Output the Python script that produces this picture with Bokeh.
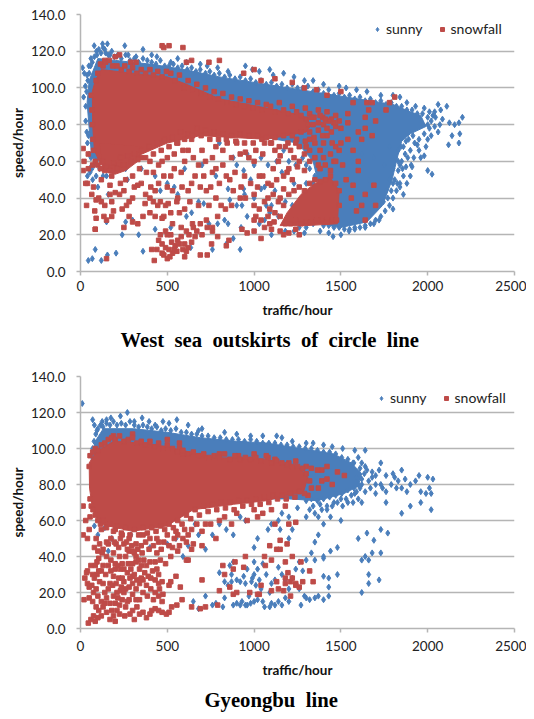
from bokeh.embed import file_html
from bokeh.resources import INLINE
from bokeh.layouts import column
from bokeh.models import FixedTicker, Legend, LegendItem, Range1d, Title
from bokeh.plotting import figure

x_ticks = [0, 500, 1000, 1500, 2000, 2500]
y_ticks = [0, 20, 40, 60, 80, 100, 120, 140]
y_labels = ["0.0", "20.0", "40.0", "60.0", "80.0", "100.0", "120.0", "140.0"]
series_names = ["sunny", "snowfall"]
titles = ["West \u00a0sea \u00a0outskirts \u00a0of \u00a0circle \u00a0line", "Gyeongbu \u00a0line"]

# ---- West sea outskirts: outlines of the solid, fully overplotted parts of each cloud
west_sunny_solid = [(38,92),(50,104),(100,116),(200,115),(400,113),(600,110),(800,106),(1000,103),(1200,100),(1400,97),(1600,94),(1800,91),(1900,87),(1960,85),(1990,79),(1900,75),(1850,71),(1825,62),(1795,50),(1740,36),(1650,27),(1500,24),(1430,25),(1390,40),(1340,60),(1250,70),(1000,74),(500,78),(300,72),(120,60),(65,62),(50,78)]
west_snow_solid = [(68,98),(85,104),(120,110),(300,108),(500,106),(610,102),(803,94),(1072,89),(1280,85),(1330,80),(1300,76),(1072,72),(689,74),(500,70),(306,62),(117,58),(80,66),(70,80)]
west_snow_solid_low = [(1150,25),(1300,25),(1480,26),(1490,44),(1440,51),(1350,48),(1270,42),(1190,32)]
west_snow_solid_mid = [(130,55),(200,53),(260,55),(330,60),(360,68),(110,70)]

west_sunny_points = [(12,111),(22,108),(18,95),(28,101),(38,107),(48,112),(60,116),(79,123),(95,118),(127,124),(140,121),(155,124),(170,118),(255,123),(275,118),(360,121),(320,117),(410,118),(440,117),(520,114),(560,116),(610,114),(690,113),(730,112),(790,111),(850,109),(950,112),(990,110),(1030,109),(1090,110),(1110,107),(1170,108),(1230,106),(1290,104),(1340,104),(1400,102),(1490,101),(1530,100),(1590,99),(1650,98),(1730,96),(1800,96),(1840,95),(1880,92),(1930,90),(1980,89),(2010,87),(2040,87),(2060,91),(2075,88),(2110,90),(2045,84),(2085,83),(2125,81),(2155,80),(2200,84),(2180,81),(2040,79),(2060,76),(2070,80),(2020,74),(2000,72),(1990,68),(1940,69),(2140,74),(2185,75),(2120,69),(2180,70),(1980,63),(1960,62),(2025,53),(2000,55),(1910,57),(1900,52),(1880,48),(1860,42),(1840,46),(1800,34),(1720,28),(1690,26),(1640,24),(1580,23),(1547,22),(1500,20),(1455,19),(1430,21),(1380,22),(1290,21),(1230,22),(1180,22),(1100,20),(1090,32),(1070,36),(1040,45),(980,50),(940,55),(880,62),(800,70),
(960,30),(945,42),(930,36),(925,24),(920,12),(940,45),(880,18),(900,36),(850,26),(860,39),(830,28),(840,15),(790,26),(760,12),(740,26),(710,37),(680,38),(640,32),(610,30),(635,13),(560,42),(520,24),(540,46),(430,23),(360,11),(335,20),(300,28),(260,27),(240,20),(205,10),(155,9),(120,6),(85,12),(68,7),(45,6),(150,27),(160,42),(150,52),(90,52),(70,50),(55,54),(60,57),(40,52),(130,52),(110,56),(100,46),(260,56),(270,50),(350,56),(430,52),(460,44),(500,48),(600,56),(700,58),(780,52),(850,45),(900,58),(1000,40),(1030,26),(1060,46),(1130,60),(1170,66),(1230,48),(1300,58),(1360,62),(1420,66),(1500,70),(1560,60),(1620,64),(1690,62),(1750,58),(1780,68),(1830,60),(1660,50),(1780,50)]
west_sunny_edge = [(30,90),(35,98),(42,104),(50,108),(58,112),(68,114),(80,117),(92,120),(105,121),(118,119),(130,122),(145,119),(160,118),(180,120),(195,117),(215,118),(235,116),(260,118),(285,115),(310,116),(335,114),(360,116),(385,115),(410,114),(435,113),(460,115),(485,112),(510,112),(535,113),(560,111),(585,112),(615,110),(640,111),(665,109),(690,110),(720,108),(745,109),(770,107),(800,108),(830,106),(860,107),(890,105),(920,106),(950,104),(980,105),(1010,103),(1040,104),(1070,102),(1100,103),(1130,101),(1160,102),(1190,100),(1220,102),(1250,100),(1280,100),(1310,101),(1340,98),(1370,99),(1400,97),(1430,99),(1460,96),(1490,97),(1520,95),(1550,96),(1580,94),(1610,95),(1640,93),(1670,94),(1700,92),(1730,93),(1760,91),(1790,92),(1820,90),(1850,90),(1880,88),(1910,88),(1940,86),(1970,86),(2000,84),
(2010,78),(1980,75),(1950,72),(1925,70),(1900,66),(1885,62),(1875,57),(1860,52),(1840,48),(1820,44),(1800,40),(1780,36),(1755,33),(1730,30),(1700,28),(1670,26),(1640,25),(1610,24),(1580,24),(1550,23),(1520,23),(1490,24),(1460,24),(1430,25),(1400,25),(1850,60),(1870,64),(1830,55),(2000,80),(2020,82),(2030,85),(1950,66),(1920,62),(1905,58),
(1815,62),(1830,66),(1860,68),(1810,50),(1800,56),(1790,44),(1745,38),(1760,44),(1840,58),(1800,48),(1770,40),(1845,68),(1875,71),(1890,72),(1915,74),(1855,56),(1825,48),
(1380,30),(1360,36),(1370,44),(1340,48),(1320,56),(1350,52),(1300,48),(1280,62),(1240,58),(1200,60),(1160,54),(1120,44),(1080,58),(1040,62),(1000,58),(960,64),(1260,30),(1220,36),(1180,38),(1140,30),(1100,36),(1060,28),(1340,26),(1300,24),(1260,24),(30,82),(36,76),(40,70),(46,74),(50,64),(60,62),(66,56),(78,58),(90,60)]

west_snow_points = [(15,67),(45,64),(20,60),(45,56),(15,55),(70,58),(40,48),(75,46),(65,42),(35,36),(90,39),(82,33),(90,29),(85,23),(105,40),(120,38),(140,36),(135,30),(150,28),(180,30),(120,50),(140,55),(180,52),(220,58),(170,47),(200,43),(225,42),(180,38),(190,33),(240,34),(265,36),(280,38),(300,40),(330,47),(375,42),(405,46),(430,44),(460,38),(490,36),(530,44),(560,40),(585,46),(620,44),(640,48),(690,46),(725,44),(760,54),(780,56),(820,58),(860,50),(925,46),(945,52),(980,48),(1000,42),(1030,52),(280,30),(300,27),(330,26),(360,30),(372,37),(400,32),(420,38),(445,36),(470,29),(505,37),(530,26),(555,38),(600,34),(645,26),(690,26),(725,28),(760,24),(790,30),(810,36),(835,34),(870,36),(920,40),(250,24),(85,23),
(425,6),(410,12),(440,12),(450,17),(470,10),(480,9),(500,7),(515,8),(530,10),(545,14),(560,17),(580,19),(600,15),(610,11),(620,13),(640,16),(660,19),(690,9),(730,9),(755,15),(790,19),(840,14),(855,17),(470,15),(490,13),(510,12),(525,16),(540,12),(555,11),(570,15),(590,12),(600,8),(460,20),(490,22),(500,20),(520,20),(580,24),(610,22),(625,20),(650,24),(670,22),(700,20),(730,24),(760,22),(930,23),(960,21),(1000,22),(1040,18),(1060,24),(1090,26),(1100,23),(1010,30),(1040,28),(1080,30),(1115,27),(1150,22),(1170,20),(1200,21),(1240,23),(1260,20),(150,7),
(30,48),(1080,40),(1150,40),(1100,47),(1130,50),(1170,45),(1190,54),(1220,50),(1250,57),(1290,55),(1320,60),(1370,58),(1400,62),(1440,55),(1460,60),(1470,68),(1500,70),(1540,72),(1570,66),(1600,60),(1510,58),(1530,50),(1570,47),(1600,55),(1640,42),(1690,47),(1700,36),(1640,28),(1590,33),(1620,36),(1560,40),(1150,63),(1210,66),(1260,68),(1320,72),(1380,66),(1420,74),(1000,60),(1050,64),(1100,70),(950,65),(900,70),(840,72),(780,68),(700,66),(640,72),(600,60),(560,70),(500,62),(450,58),(400,60),(350,62),(1500,78),(1540,81),(1600,76),(1640,78),(1680,74),(1620,72),(1570,92),(1540,86),(1660,88),(1680,92),(1780,92),(1760,88),(1810,95),(1640,84),(1700,82),
(470,123),(480,122),(510,123),(590,122),(610,114),(640,115),(740,114),(800,115),(940,108),(1000,110),(1040,104),(1120,105),(1220,103),(1290,100),(1360,99),(1420,96),(1500,98),(1650,92),(200,117),(225,118),(140,115),(290,114),(320,114)]
west_snow_edge = [(62,96),(66,88),(68,80),(72,72),(75,66),(90,104),(100,108),(115,113),(130,112),(145,114),(165,115),(185,112),(210,112),(235,110),(255,112),(280,109),(300,111),(325,108),(350,110),(375,108),(400,110),(420,107),(445,109),(470,106),(495,109),(520,108),(545,104),(570,107),(595,100),(620,104),(645,99),(670,102),(695,97),(720,100),(745,95),(770,98),(795,94),(820,97),(845,92),(870,95),(895,91),(920,94),(945,90),(970,93),(995,89),(1020,92),(1045,88),(1070,91),(1095,90),(1120,87),(1145,92),(1170,88),(1195,86),(1220,90),(1245,87),(1270,85),(1295,89),(1320,86),(1345,84),(1370,88),(1395,84),(1420,87),(1445,83),(1470,85),(1490,82),
(85,60),(100,58),(115,56),(130,60),(150,57),(170,55),(190,59),(210,56),(230,62),(250,58),(270,63),(290,60),(310,64),(330,61),(350,66),(375,62),(395,68),(420,64),(440,70),(465,66),(485,72),(510,68),(530,73),(555,70),(575,76),(600,72),(620,75),(645,74),(670,78),(695,74),(720,77),(745,72),(770,76),(795,72),(820,75),(845,70),(870,74),(895,71),(920,75),(945,70),(970,74),(995,70),(1020,74),(1045,72),(1070,73),(1095,70),(1120,73),(1145,68),(1170,74),(1195,70),(1220,74),(1245,72),(1270,76),(1295,71),(1320,76),(1345,73),(1370,77),(1395,74),(1420,78),(1445,76),(1470,79),
(1310,80),(1340,80),(1370,81),(1400,80),(1430,82),(1460,81),(1330,84),(1380,85),(1410,83),(1300,83),
(1000,28),(1030,34),(1060,38),(1090,34),(1120,32),(1150,30),(1170,36),(1140,38),(1110,42),(1180,26),(1210,26),(1240,28),(1270,26),(1300,27),(1330,27),(1360,28),(1390,28),(1420,27),(1450,28),(1475,28),(1200,42),(1230,44),(1260,46),(1290,44),(1320,48),(1350,50),(1380,49),(1410,50),(1440,52),(1470,48),(1490,44),(1490,36),
(1020,46),(1050,52),(1080,48),(1110,56),(1140,60),(1170,52),(1200,56),(1230,62),(1260,60),(1290,64),(1320,66),(1350,62),(1380,56),(1410,58),(1440,64),(1470,60),(1490,66),(1450,70),(1400,70),(1350,70),(1300,68),(1240,70),(1180,68),(1120,66),(1060,70),(1010,66),(970,62),(920,64),(870,62),(820,66),(760,62),(720,60),(680,58),(650,62),(620,66),(590,66),(540,64),(470,60),(420,54),(380,54),(340,56),(300,52),(260,50),(230,48),(170,42),(250,44),(310,46),(350,48),(400,40),(450,48),(500,46),(520,52),(480,52),(540,56),(580,54),(660,52),(710,52),(750,46),(800,48),(840,52),(890,54),(950,40),(1000,36),(880,44),(780,40),(740,36),(680,36),(630,38),(570,32),(520,32),(480,30),(430,30)]

# ---- Gyeongbu line
gyeongbu_sunny_solid = [(62,94),(85,104),(131,111),(305,111),(500,109),(690,106),(900,104),(1073,103),(1268,100),(1458,97),(1560,92),(1620,86),(1600,79),(1518,75),(1364,71),(1200,72),(1000,72),(600,72),(300,62),(100,65),(65,80)]
gyeongbu_snow_solid = [(50,92),(90,98),(190,104),(350,103),(497,101),(766,95),(1073,94),(1265,89),(1310,84),(1285,76),(1190,74),(1073,71),(880,69),(650,66),(497,57),(300,54),(112,58),(70,66),(52,78)]

gyeongbu_sunny_points = [(10,125),(70,116),(80,113),(95,110),(125,115),(150,116),(175,117),(230,118),(270,120),(310,115),(355,117),(395,115),(430,113),(475,115),(510,114),(555,116),(620,113),(680,110),(700,111),(830,109),(900,108),(980,107),(1050,107),(1130,107),(1160,106),(1220,104),(1300,103),(1340,103),(1400,102),(1450,101),(1510,100),(1580,99),(1640,99),(1570,92),(1600,95),(1620,92),(1640,90),(1680,87),(1700,85),(1720,88),(1660,82),(1620,80),(1580,75),(1530,72),(1600,72),(1700,75),(1740,78),(1760,85),(1800,86),(1730,92),(1850,88),(1810,84),(1830,82),(1870,83),(1900,80),(1930,82),(1950,85),(1960,76),(2000,84),(2030,83),(2010,78),(2020,75),(1990,75),(1960,70),(2020,66),(1900,68),(1850,64),(1760,76),(1760,70),(1620,70),(1480,70),(1420,66),(1440,62),(1400,58),(1370,62),(1300,62),(1250,67),(1200,62),(1160,64),(1140,60),(1100,58),(1150,55),(1200,50),(1220,55),(1370,52),(1400,40),(1350,48),(1500,60),(1650,53),(1770,53),(1730,55),(1730,42),(1690,49),(1600,50),(1680,42),(1660,30),(1640,40),(1620,38),(1660,38),(1720,27),(1660,25),(1620,20),
(1320,66),(1350,64),(1390,66),(1450,68),(1510,68),(1570,70),(1640,76),(1670,78),(1700,80),(1730,80),(1790,80),(1820,78),(1850,78),(1880,76),
(1080,55),(1020,50),(1000,45),(950,60),(920,62),(880,52),(840,55),(800,58),(760,52),(720,44),(680,52),(660,58),(620,46),(590,40),(550,50),(500,47),(400,45),(290,52),(180,50),(140,56),(100,52),(80,57),(120,65),(160,43),
(1480,45),(1480,30),(1440,43),(1400,39),(1430,28),(1400,29),(1350,38),(1330,42),(1300,38),(1280,32),(1260,37),(1240,33),(1220,28),(1200,22),(1180,27),(1160,30),(1140,34),(1120,27),(1100,25),(1090,20),(1070,30),(1050,36),(1040,22),(1020,33),(1000,30),(990,28),(985,26),(1010,24),(1030,27),(970,18),(960,13),(980,14),(950,25),(940,29),(930,15),(920,13),(900,14),(880,13),(870,30),(860,35),(880,37),(800,31),(830,26),(850,24),(870,26),(820,12),(780,14),(760,13),(720,18),(680,11),(650,15),(830,17),(1100,14),(1120,13),(1140,15),(1160,13),(1180,17),(1200,15),(1260,22),(1300,17),(1320,16),(1350,17),(1400,16),(1430,23),(1430,18),(1370,18),(1290,18),(1270,13),(1090,12),(1060,12),(1050,15),(1020,16),(950,13),(1000,15),(900,27),(920,26),(960,33),(1000,37)]
gyeongbu_sunny_edge = [(62,96),(70,100),(78,104),(88,108),(100,111),(115,113),(130,112),(150,114),(170,113),(190,115),(210,113),(235,114),(260,113),(285,115),(310,113),(335,112),(360,113),(385,112),(410,111),(440,112),(465,110),(490,111),(520,110),(550,111),(580,109),(610,109),(640,108),(670,108),(700,107),(735,107),(770,106),(805,106),(840,105),(875,105),(910,105),(945,104),(980,105),(1015,104),(1050,103),(1085,103),(1120,103),(1155,102),(1190,102),(1225,101),(1260,101),(1295,100),(1330,100),(1365,99),(1400,98),(1435,98),(1470,97),(1505,95),(1540,94),(1575,92),(1610,89),(1635,86),(1620,83),(1600,80),(1575,78),(1540,77),(1505,75),(1470,74),(1435,73),(1400,72),(1365,71),(1330,72),(1300,71),(1260,74),(1420,68),(1380,69),(1340,68),(1500,72),(1460,70),(1560,74),(1590,76),(1650,88),(1680,84),(1540,70),(1590,84),(1610,78)]

gyeongbu_snow_points = [(15,68),(30,60),(50,55),(55,62),(15,52),(40,50),(80,45),(120,55),(160,47),(200,55),(240,52),(280,50),(320,47),(360,52),(400,50),(450,48),(500,52),(550,54),(590,50),(640,55),(700,54),(750,58),(780,50),(830,62),(900,64),(960,60),(1020,62),(1050,64),(1120,58),(1200,58),(1240,59),(1090,46),(1130,44),(1100,38),(1180,37),(1180,25),(1240,25),(1280,26),(1220,28),(1210,18),(1140,22),(1100,21),(1040,24),(1030,19),
(20,16),(45,3),(50,17),(60,5),(75,7),(85,4),(90,12),(100,18),(110,26),(120,32),(95,30),(80,28),(65,24),(50,23),(40,32),(35,31),(60,35),(95,37),(105,39),(130,25),(140,20),(150,9),(170,5),(190,7),(200,4),(210,10),(225,13),(240,16),(260,12),(285,8),(300,10),(325,12),(360,9),(380,6),(410,10),(430,11),(470,9),(495,8),(510,9),(470,15),(450,18),(430,20),(405,22),(380,24),(360,27),(340,25),(320,22),(300,19),(280,23),(250,26),(230,21),(210,20),(190,18),(170,14),(150,17),(130,12),(120,15),(170,25),(190,29),(200,33),(220,28),(240,36),(260,40),(280,43),(300,36),(320,37),(340,33),(355,42),(300,29),(270,31),(250,33),(200,36),(190,42),(205,47),(230,50),(350,28),(370,31),(390,29),(430,27),(450,30),(470,26),(510,24),(520,26),(550,29),(575,23),(585,16),(555,13),(525,12),(455,22),(475,19),(440,42),(430,37),(460,38),(490,36),(520,40),(530,45),(560,43),(610,38),(620,38),(650,47),(700,27),(640,12),(690,11),(720,12),(790,13),(800,21),(860,23),(880,19),(900,20),(975,20),(1020,19),(1065,35),
(570,46),(610,48),(640,44),(700,46),(820,35),(830,30),(880,33),(890,37),(940,34),(950,40),(1060,40),(1150,44),(1210,26),(1180,28),(1320,32),(1340,26),(1260,23),(1240,24),(1170,21),(1130,26),(1195,31),(1220,40),(1270,37),(1190,47),(1150,49),
(190,107),(300,108),(500,105),(570,103),(570,100),(590,97),(700,96),(800,97),(910,96),(1000,97),(1080,95),(1120,94),(1200,92),(1240,93),(1300,90),(1330,89),(1365,88),(1420,90),(1390,88),(1480,87),(1520,85),(1420,83),(1390,82),(1450,80),(1370,78)]
gyeongbu_snow_edge = [(50,90),(55,96),(70,98),(85,100),(100,99),(120,102),(140,103),(160,105),(180,106),(200,105),(225,107),(250,104),(275,105),(300,106),(325,103),(350,104),(375,102),(400,104),(425,101),(450,103),(475,100),(500,102),(530,100),(560,98),(590,99),(620,97),(650,98),(680,96),(710,97),(740,95),(770,96),(800,95),(830,97),(860,94),(890,96),(920,94),(950,95),(980,94),(1010,95),(1040,93),(1070,96),(1100,92),(1130,93),(1160,92),(1190,91),(1220,90),(1250,90),(1280,89),(1300,86),(1320,82),(1330,78),(1310,74),(1290,75),
(55,72),(62,68),(72,66),(85,63),(100,60),(115,58),(130,60),(150,56),(170,58),(190,54),(210,57),(235,53),(260,56),(285,52),(310,55),(335,52),(360,56),(385,53),(410,56),(435,54),(460,57),(485,55),(510,58),(535,56),(560,60),(585,58),(610,63),(635,61),(660,66),(685,63),(710,68),(735,65),(760,69),(785,66),(810,70),(835,67),(860,70),(885,66),(910,71),(935,68),(960,71),(985,69),(1010,72),(1035,69),(1060,73),(1085,70),(1110,74),(1135,72),(1160,74),(1185,72),(1210,75),(1235,73),(1260,76),
(90,50),(110,47),(130,44),(150,48),(175,50),(195,48),(220,45),(250,47),(270,44),(295,46),(310,42),(330,44),(350,46),(375,48),(395,44),(420,46),(440,50),(465,44),(480,48),(510,46),(540,50),(560,52),(600,55),(620,52),(670,58),(720,58),(800,60),(870,58),(1000,66),(1100,66),(1180,68),
(70,30),(85,35),(75,20),(90,22),(105,32),(130,35),(145,30),(160,35),(175,32),(185,24),(205,25),(215,35),(230,33),(240,28),(260,22),(275,36),(285,28),(310,30),(325,27),(335,38),(350,35),(365,38),(380,35),(400,37),(415,32),(440,33),(450,25),(405,28),(385,18),(360,20),(340,16),(320,16),(280,16),(250,20),(225,8),(255,7),(310,5),(340,8),(400,8),(450,10),(420,16),(120,7),(105,10),(70,15),(40,25),(25,28),(100,6),(140,14),(180,10),(300,25),(270,15),(215,17),(160,22),(200,14),(235,23),(290,33),(320,40),(265,48),(300,43),(225,40),(175,38),(150,40),(125,42),(100,43)]

SUNNY = "#4a7ebb"
SNOW = "#be4b48"
GRID = "#b5b5b5"


def make_chart(sunny_solids, snow_solids, sunny_points, snow_points, title,
               height, frame_w, frame_h, top, tick_standoff, label_standoff, title_offset, title_standoff, legend_xy):
    left = 80
    p = figure(width=526, height=height, output_backend="svg", toolbar_location=None,
               x_range=Range1d(0, 2500), y_range=Range1d(0, 140),
               min_border_left=left, min_border_right=526 - left - frame_w, min_border_top=top,
               min_border_bottom=height - top - frame_h)
    p.outline_line_color = None
    p.xgrid.visible = False
    p.ygrid.ticker = FixedTicker(ticks=y_ticks)
    p.ygrid.grid_line_color = GRID
    p.ygrid.grid_line_width = 1.5

    for ax, ticks in ((p.xaxis[0], x_ticks), (p.yaxis[0], y_ticks)):
        ax.ticker = FixedTicker(ticks=ticks)
        ax.axis_line_color = GRID
        ax.axis_line_width = 1.5
        ax.major_tick_line_color = GRID
        ax.major_tick_line_width = 1.5
        ax.major_tick_in = 0
        ax.major_tick_out = 4
        ax.minor_tick_line_color = None
        ax.major_label_text_font = "Lato"
        ax.major_label_text_font_size = "13.5px"
        ax.major_label_text_color = "#222222"
        ax.axis_label_text_font = "Lato"
        ax.axis_label_text_font_size = "13.5px"
        ax.axis_label_text_font_style = "bold"
        ax.axis_label_text_color = "#111111"
    p.yaxis[0].major_label_overrides = {t: s for t, s in zip(y_ticks, y_labels)}
    p.xaxis[0].axis_label = "traffic/hour"
    p.yaxis[0].axis_label = "speed/hour"
    p.xaxis[0].major_label_standoff = tick_standoff
    p.yaxis[0].major_label_standoff = 11
    p.xaxis[0].axis_label_standoff = label_standoff
    p.yaxis[0].axis_label_standoff = 2

    for solid in sunny_solids:
        p.patch([a for a, _ in solid], [b for _, b in solid], color=SUNNY, line_width=1)
    r1 = p.scatter([a for a, _ in sunny_points], [b for _, b in sunny_points],
                   marker="diamond", size=6, color=SUNNY)
    for solid in snow_solids:
        p.patch([a for a, _ in solid], [b for _, b in solid], color=SNOW, line_width=1)
    r2 = p.scatter([a for a, _ in snow_points], [b for _, b in snow_points],
                   marker="square", size=4.5, color=SNOW)

    legend = Legend(items=[LegendItem(label=series_names[0], renderers=[r1]),
                           LegendItem(label=series_names[1], renderers=[r2])],
                    orientation="horizontal", location=legend_xy,
                    background_fill_alpha=0, border_line_color=None,
                    label_text_font="Lato", label_text_font_size="14px",
                    label_text_color="#222222", glyph_width=10, glyph_height=10,
                    label_standoff=4, spacing=14, margin=0, padding=0)
    p.add_layout(legend, "center")

    p.add_layout(Title(text=title, align="left", offset=title_offset, standoff=title_standoff,
                       text_font="Liberation Serif", text_font_style="bold",
                       text_font_size="20.7px", text_color="#000000"), "below")
    return p


p1 = make_chart([west_sunny_solid], [west_snow_solid, west_snow_solid_low, west_snow_solid_mid],
                west_sunny_points + west_sunny_edge, west_snow_points + west_snow_edge, titles[0],
                362, 437, 257, 14, 5, 8, 40, 12, (292, 234))
p2 = make_chart([gyeongbu_sunny_solid], [gyeongbu_snow_solid],
                gyeongbu_sunny_points + gyeongbu_sunny_edge, gyeongbu_snow_points + gyeongbu_snow_edge, titles[1],
                357, 434, 252, 14, 8, 8, 124, 13, (296, 222))
page = column(p1, p2, spacing=0)
open("out.html", "w").write(file_html(page, INLINE))
